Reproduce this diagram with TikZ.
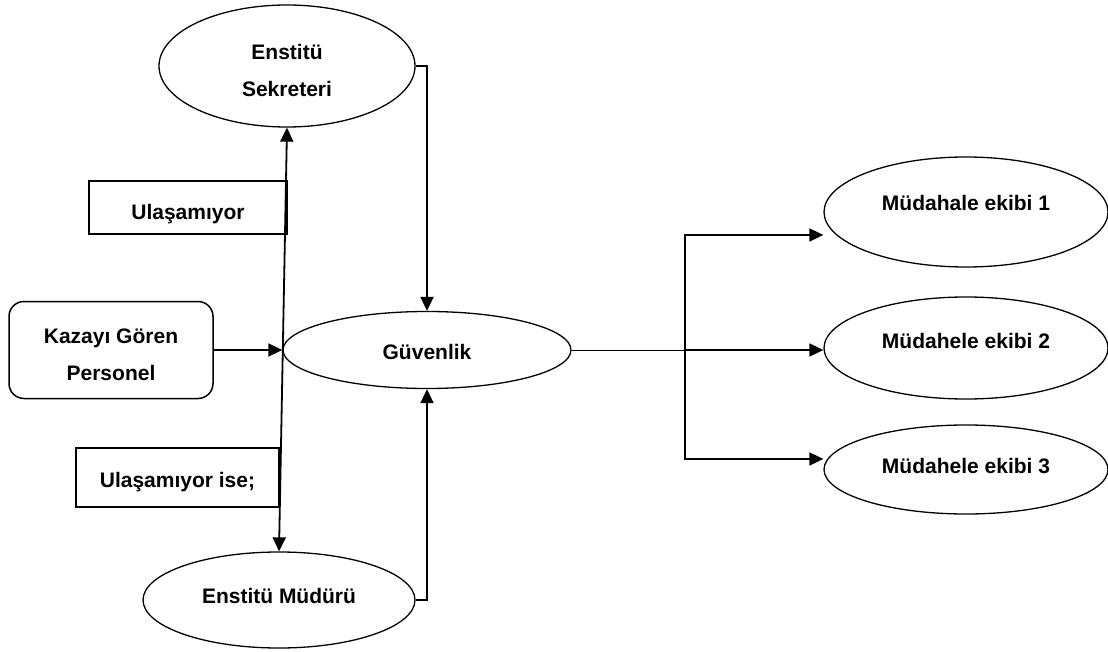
\documentclass[tikz,border=0pt]{standalone}
\usepackage{fontspec}
\setmainfont{Liberation Sans}
\usetikzlibrary{shapes.geometric,arrows.meta}

\tikzset{
  elip/.style={ellipse, draw, line width=1.3pt, inner sep=0pt},
  kutu/.style={rectangle, draw, line width=1.5pt, inner sep=0pt},
  yazi/.style 2 args={text height=#1pt, text depth=#2pt},
  ok/.style={line width=1.8pt, -{Triangle[length=14pt,width=13pt]}},
}

\begin{document}
\begin{tikzpicture}[x=1pt, y=-1pt, font=\fontsize{21}{37}\selectfont\bfseries]

    \useasboundingbox (0,0) rectangle (1108,652);

    % sol taraf
    \node[elip, minimum width=256pt, minimum height=122pt, align=center, yazi={61}{0}] (es) at (287,66) {Enstitü\\Sekreteri};
    \node[kutu, rounded corners=15pt, minimum width=204pt, minimum height=97pt, align=center, yazi={61}{0}] (kgp) at (111,350) {Kazayı Gören\\Personel};
    \node[kutu, minimum width=198pt, minimum height=53pt, yazi={25}{0}] (ul) at (188,207.5) {Ulaşamıyor};
    \node[kutu, minimum width=203pt, minimum height=59pt, yazi={19}{0}] (uli) at (177.5,477.5) {Ulaşamıyor ise;};
    \node[elip, minimum width=272pt, minimum height=96pt, yazi={15}{9}] (em) at (279,600) {Enstitü Müdürü};

    % orta
    \node[elip, minimum width=288pt, minimum height=77pt, yazi={19}{0}] (guv) at (427,350) {Güvenlik};

    % sag taraf
    \node[elip, minimum width=284pt, minimum height=110pt, yazi={15}{18}] (m1) at (966,212) {Müdahale ekibi 1};
    \node[elip, minimum width=284pt, minimum height=102pt, yazi={15}{15}] (m2) at (966,348) {Müdahele ekibi 2};
    \node[elip, minimum width=284pt, minimum height=89pt, yazi={15}{8}] (m3) at (966,469.5) {Müdahele ekibi 3};

    \coordinate (jn) at (685,350);
    \coordinate (t1) at ([yshift=-23pt]m1.west);
    \coordinate (t3) at ([yshift=10.5pt]m3.west);

    % oklar
    \draw[ok] (es.east) -| (guv.north);
    \draw[ok] (em.east) -| (guv.south);
    \draw[ok] (kgp.east) -- (guv.west);
    \draw[ok, {Triangle[length=14pt,width=13pt]}-{Triangle[length=14pt,width=13pt]}] (es.south) -- (em.north);

    \draw[line width=1pt] (guv.east) -- (jn);
    \draw[ok] (jn) -- (jn -| m2.west);
    \draw[ok, {Triangle[length=14pt,width=13pt]}-{Triangle[length=14pt,width=13pt]}] (t1) -- (t1 -| jn) -- (t3 -| jn) -- (t3);

\end{tikzpicture}
\end{document}
